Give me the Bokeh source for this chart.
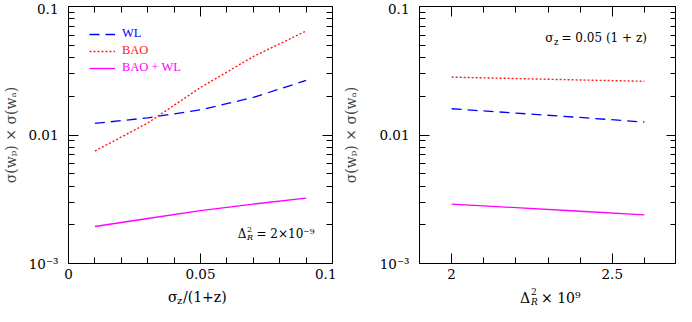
from bokeh.plotting import figure
from bokeh.layouts import row, column
from bokeh.models import FixedTicker, LinearAxis, LogAxis, Label, Legend, LegendItem, Div
from bokeh.embed import file_html
from bokeh.resources import INLINE

# ---- data ----
sz = [0.01, 0.03, 0.05, 0.07, 0.09]
wl_left = [0.0123, 0.0136, 0.0157, 0.0196, 0.0266]
bao_left = [0.0075, 0.0124, 0.0234, 0.0408, 0.0644]
comb_left = [0.00194, 0.00224, 0.00258, 0.00290, 0.00323]

dr = [2.0, 2.2, 2.4, 2.6]
wl_right = [0.0160, 0.0148, 0.0137, 0.0126]
bao_right = [0.0282, 0.0275, 0.0268, 0.0262]
comb_right = [0.00290, 0.00272, 0.00255, 0.00239]

y_ticks = [0.001, 0.01, 0.1]
y_tick_labels = {0.001: "10\u207b\u00b3", 0.01: "0.01", 0.1: "0.1"}
y_minor = [k * 10.0 ** d for d in (-3, -2) for k in range(2, 10)]

xl_ticks = [0.0, 0.05, 0.1]
xl_tick_labels = {0.0: "0", 0.05: "0.05", 0.1: "0.1"}
xl_minor = [0.01, 0.02, 0.03, 0.04, 0.06, 0.07, 0.08, 0.09]

xr_ticks = [2.0, 2.5]
xr_tick_labels = {2.0: "2", 2.5: "2.5"}
xr_minor = [1.9, 2.1, 2.2, 2.3, 2.4, 2.6, 2.7]

BLUE = "#0000ff"
RED = "#ff1a1a"
MAG = "#ff00ff"
FONT = "DejaVu Serif"
FH = 257


def style_axis(ax, major, minor, labels, show_labels=True, standoff=8):
    ax.ticker = FixedTicker(ticks=major, minor_ticks=minor)
    ax.major_tick_in = 10
    ax.major_tick_out = 0
    ax.minor_tick_in = 6
    ax.minor_tick_out = 0
    ax.axis_line_color = "black"
    ax.major_tick_line_color = "black"
    ax.minor_tick_line_color = "black"
    ax.major_label_text_font = FONT
    ax.major_label_text_font_size = "13.5px"
    ax.major_label_text_color = "black"
    if show_labels:
        ax.major_label_overrides = labels
        ax.major_label_standoff = standoff
    else:
        ax.major_label_overrides = {k: "" for k in labels}
        ax.major_label_standoff = 0


def make_fig(xrange, xmajor, xminor, xlabels, min_left, frame_w, min_right, ylabel_standoff):
    p = figure(x_range=xrange, y_range=(1e-3, 0.1), y_axis_type="log",
               frame_width=frame_w, frame_height=FH,
               min_border_left=min_left, min_border_right=min_right,
               min_border_top=6, min_border_bottom=24,
               output_backend="svg", toolbar_location=None)
    p.xgrid.visible = False
    p.ygrid.visible = False
    p.outline_line_color = "black"
    p.background_fill_color = "white"
    p.border_fill_color = "white"
    style_axis(p.xaxis[0], xmajor, xminor, xlabels, standoff=5)
    style_axis(p.yaxis[0], y_ticks, y_minor, y_tick_labels, standoff=10)
    p.yaxis[0].axis_label = "\u03c3(w\u209a) \u00d7 \u03c3(w\u2090)"
    p.yaxis[0].axis_label_text_font = FONT
    p.yaxis[0].axis_label_text_font_style = "normal"
    p.yaxis[0].axis_label_text_font_size = "14px"
    p.yaxis[0].axis_label_standoff = ylabel_standoff
    top = LinearAxis()
    style_axis(top, xmajor, xminor, xlabels, show_labels=False)
    p.add_layout(top, "above")
    right = LogAxis()
    style_axis(right, y_ticks, y_minor, y_tick_labels, show_labels=False)
    p.add_layout(right, "right")
    return p


def lbl(p, x, y, text, size="14px", align="left", style="normal"):
    p.add_layout(Label(x=x, y=y, x_units="screen", y_units="screen", text=text,
                       text_font=FONT, text_font_size=size, text_align=align,
                       text_baseline="middle", text_font_style=style, text_color="black"))


# ---- left panel ----
p1 = make_fig((0.0, 0.1), xl_ticks, xl_minor, xl_tick_labels, 66, 264, 4, 6)
r_wl = p1.line(sz, wl_left, line_color=BLUE, line_width=1.3, line_dash="10 6")
r_bao = p1.line(sz, bao_left, line_color=RED, line_width=1.4, line_dash="2 2")
r_cmb = p1.line(sz, comb_left, line_color=MAG, line_width=1.3)

for i, (name, r, c) in enumerate([("WL", r_wl, BLUE), ("BAO", r_bao, RED), ("BAO + WL", r_cmb, MAG)]):
    d = 29 + 17.2 * i
    leg = Legend(items=[LegendItem(label=name, renderers=[r])], location=(21, FH - d - 6),
                 label_text_color=c, label_text_font="Liberation Serif", label_text_font_size="12.5px",
                 glyph_width=26, glyph_height=12, label_height=12, label_standoff=7,
                 padding=0, margin=0, spacing=0, border_line_color=None,
                 background_fill_alpha=0)
    p1.add_layout(leg)

# annotation  Delta_R^2 = 2x10^-9
lbl(p1, 178, 30, "\u0394", size="12px", align="right")
lbl(p1, 178.5, 34, "2", size="8px")
lbl(p1, 178.5, 26, "R", size="8px", style="italic")
lbl(p1, 188, 30, "= 2\u00d710\u207b\u2079", size="12px")

# ---- right panel ----
p2 = make_fig((1.9, 2.7), xr_ticks, xr_minor, xr_tick_labels, 83, 257, 0, 17)
p2.line(dr, wl_right, line_color=BLUE, line_width=1.3, line_dash="10 6")
p2.line(dr, bao_right, line_color=RED, line_width=1.4, line_dash="2 2")
p2.line(dr, comb_right, line_color=MAG, line_width=1.3)

# annotation  sigma_z = 0.05 (1+z)
lbl(p2, 134, FH - 31, "\u03c3", size="12px", align="right")
lbl(p2, 134.5, FH - 35, "z", size="8.5px")
lbl(p2, 142, FH - 31, "= 0.05 (1 + z)", size="12px")

# ---- x-axis titles (HTML text with sub/superscripts) ----
def piece(left, top, text, size=14, italic=False):
    st = "font-style:italic;" if italic else ""
    return ('<span style="position:absolute;left:%spx;top:%spx;font-size:%spx;'
            'line-height:%spx;white-space:nowrap;%s">%s</span>' % (left, top, size, size, st, text))

html = ('<div style="position:relative;width:674px;height:19px;font-family:\'DejaVu Serif\';'
        'color:black;overflow:visible">'
        + piece(168, 3, "\u03c3")
        + piece(177, 9, "z", 10)
        + piece(183, 3, "/(1+z)")
        + piece(520, 4, "\u0394")
        + piece(531, 1, "2", 9)
        + piece(531, 11, "R", 9, italic=True)
        + piece(541, 4, "\u00d7 10\u2079")
        + '</div>')
xtitles = Div(text=html, width=674, height=19, margin=0)

layout = column(row(p1, p2), xtitles)
open("out.html", "w").write(file_html(layout, INLINE))
